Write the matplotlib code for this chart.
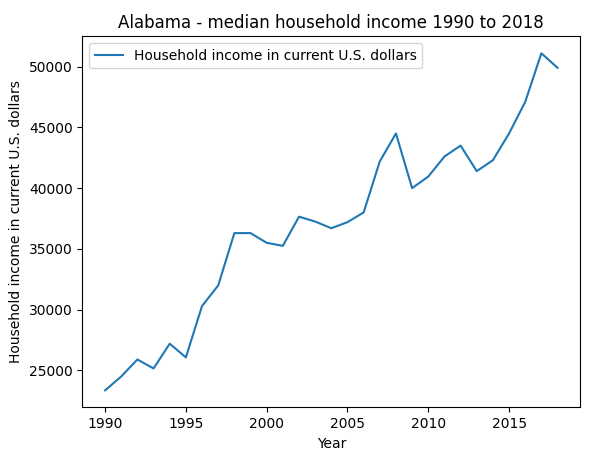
import matplotlib
matplotlib.use("Agg")
import matplotlib.pyplot as plt

years = list(range(1990, 2019))
income = [23357, 24500, 25900, 25160, 27200, 26070, 30300, 31990, 36300, 36300,
          35500, 35250, 37650, 37250, 36700, 37200, 38000, 42200, 44500, 40000,
          40950, 42600, 43500, 41400, 42300, 44500, 47100, 51100, 49900]

fig, ax = plt.subplots(figsize=(5.89, 4.55), dpi=100)
ax.plot(years, income, label="Household income in current U.S. dollars")
ax.set_title("Alabama - median household income 1990 to 2018")
ax.set_xlabel("Year")
ax.set_ylabel("Household income in current U.S. dollars")
ax.legend(loc="upper left")
fig.subplots_adjust(left=0.14, right=0.985, top=0.92, bottom=0.105)
fig.savefig("out.png")
